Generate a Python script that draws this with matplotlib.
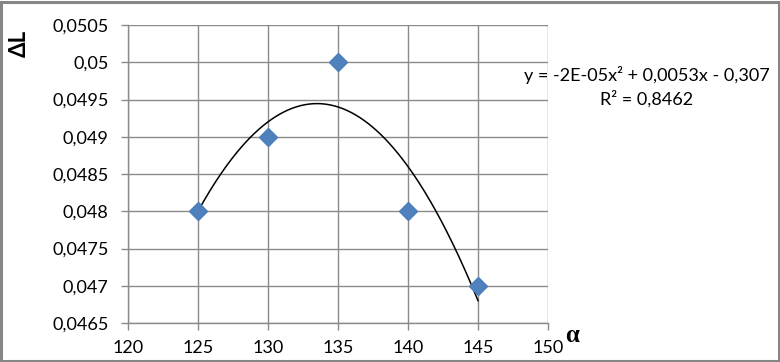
import numpy as np
import matplotlib
matplotlib.use("Agg")
import matplotlib.pyplot as plt
from matplotlib.patches import Rectangle

alpha = [125, 130, 135, 140, 145]
dL = [0.048, 0.049, 0.050, 0.048, 0.047]
yticks = [0.0465, 0.047, 0.0475, 0.048, 0.0485, 0.049, 0.0495, 0.05, 0.0505]
ytick_labels = ["0,0465", "0,047", "0,0475", "0,048", "0,0485", "0,049", "0,0495", "0,05", "0,0505"]
xticks = [120, 125, 130, 135, 140, 145, 150]
eq_text = "y = -2E-05x² + 0,0053x - 0,307"
r2_text = "R² = 0,8462"

plt.rcParams['font.family'] = ['Lato', 'DejaVu Sans']

W, H = 780, 362
fig = plt.figure(figsize=(W/100, H/100), dpi=100)
ax = fig.add_axes([128/W, 1-323/H, (548-128)/W, (323-25)/H])

ax.set_xlim(120, 150)
ax.set_ylim(0.0465, 0.0505)
ax.set_xticks(xticks)
ax.set_xticklabels([str(x) for x in xticks], fontsize=13)
ax.set_yticks(yticks)
ax.set_yticklabels(ytick_labels, fontsize=13)
ax.grid(True, color='#8a8a8a', linewidth=1)
ax.set_axisbelow(True)
for s in ['top', 'right']:
    ax.spines[s].set_visible(False)
for s in ['left', 'bottom']:
    ax.spines[s].set_color('#8a8a8a')
    ax.spines[s].set_linewidth(1)
ax.tick_params(axis='both', color='#8a8a8a', length=5, width=1, direction='out', labelcolor='black')
ax.tick_params(axis='x', pad=7)
ax.tick_params(axis='y', pad=9)

coef = np.polyfit(alpha, dL, 2)
xs = np.linspace(min(alpha), max(alpha), 200)
ax.plot(xs, np.polyval(coef, xs), color='black', linewidth=1.1, zorder=3)
ax.plot(alpha, dL, linestyle='none', marker='D', markersize=9, color='#4F81BD',
        markeredgecolor='#4A7EBB', zorder=4)

fig.text(647/W, 1-75/H, eq_text, ha='center', va='center', fontsize=13)
fig.text(647/W, 1-99/H, r2_text, ha='center', va='center', fontsize=13)
fig.text(19/W, 1-43/H, "ΔL", rotation=90, ha='center', va='center', fontsize=16, fontweight='bold')
fig.text(572/W, 1-336/H, "α", ha='center', va='center', fontsize=18, fontweight='bold',
         family=['Liberation Serif', 'DejaVu Serif'])

fig.patches.append(Rectangle((1/W, 1.5/H), (W-2.5)/W, (H-3)/H, transform=fig.transFigure,
                             fill=False, edgecolor='#868686', linewidth=2.2))

fig.savefig("out.png", dpi=100)
